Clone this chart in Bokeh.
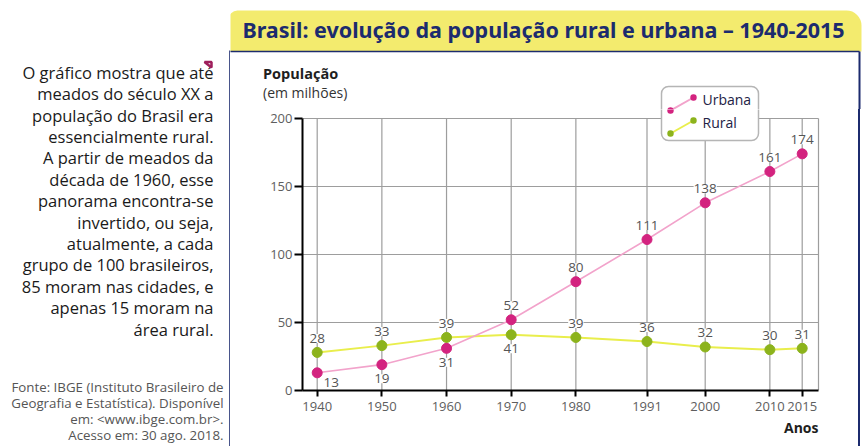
from bokeh.plotting import figure
from bokeh.models import (ColumnDataSource, LabelSet, Label, BoxAnnotation, Title,
                          PolyAnnotation, FixedTicker, Range1d, Div)
from bokeh.layouts import row, column
from bokeh.core.properties import value
from bokeh.embed import file_html
from bokeh.resources import INLINE

# ---- data ----
years = [1940, 1950, 1960, 1970, 1980, 1991, 2000, 2010, 2015]
urbana = [13, 19, 31, 52, 80, 111, 138, 161, 174]
rural = [28, 33, 39, 41, 39, 36, 32, 30, 31]
y_ticks = [0, 50, 100, 150, 200]
series_names = ["Urbana", "Rural"]
title_text = "Brasil: evolução da população rural e urbana – 1940-2015"
y_title = "População"
y_subtitle = "(em milhões)"
x_title = "Anos"
paragraph = [
    "O gráfico mostra que até",
    "meados do século XX a",
    "população do Brasil era",
    "essencialmente rural.",
    "A partir de meados da",
    "década de 1960, esse",
    "panorama encontra-se",
    "invertido, ou seja,",
    "atualmente, a cada",
    "grupo de 100 brasileiros,",
    "85 moram nas cidades, e",
    "apenas 15 moram na",
    "área rural.",
]
source_lines = [
    "Fonte: IBGE (Instituto Brasileiro de",
    "Geografia e Estatística). Disponível",
    "em: <www.ibge.com.br>.",
    "Acesso em: 30 ago. 2018.",
]
# label placement (style): where each value label sits relative to its point
urb_place = ["below-right", "below", "below", "above", "above", "above", "above", "above", "above"]
rur_place = ["above", "above", "above", "below", "above", "above", "above", "above", "above"]

# ---- styling ----
FONT = "Open Sans"
NAVY = "#1c2b6e"
YELLOW = "#f3eb6e"
URB_PT, URB_LN = "#d3237f", "#f2a3cb"
RUR_PT, RUR_LN = "#8cb31c", "#e9ee4c"
GRID = "#9d9d9d"
LAB = "#555555"
PX_YR = 6.467         # horizontal scale (px per year)
PX_UNIT = 1.36        # vertical scale (px per million)


def blank(w, h):
    f = figure(width=w, height=h, x_range=Range1d(0, 1), y_range=Range1d(0, 1),
               output_backend="svg", toolbar_location=None,
               x_axis_location=None, y_axis_location=None, min_border=0)
    f.grid.visible = False
    f.outline_line_color = None
    f.background_fill_color = "white"
    f.border_fill_color = "white"
    return f


def add_label(f, x, y, text, **kw):
    base = dict(x=x, y=y, x_units="canvas", y_units="canvas", text=text,
                text_font=FONT, text_baseline="middle")
    base.update(kw)
    f.add_layout(Label(**base))


def add_box(f, l, r, t, b, **kw):
    base = dict(left=l, right=r, top=t, bottom=b, left_units="canvas", right_units="canvas",
                top_units="canvas", bottom_units="canvas", line_alpha=1.0)
    base.update(kw)
    f.add_layout(BoxAnnotation(**base))


def add_poly(f, xs, ys, **kw):
    f.add_layout(PolyAnnotation(xs=xs, ys=ys, xs_units="canvas", ys_units="canvas",
                                fill_alpha=0, line_alpha=1.0, **kw))


# ---------- left text column (page x 0..230) ----------
left = blank(230, 446)
for i, line in enumerate(paragraph):
    add_label(left, 213, 71.7 + 21.4 * i, line, text_align="right", text_color="#1a1a1a",
              text_font_size="16.5px")
add_poly(left, [204, 211, 211], [61.5, 61.5, 67], line_color="#9e1f5c", line_width=2.5)
for i, line in enumerate(source_lines):
    add_label(left, 223, 386 + 16.2 * i, line, text_align="right", text_color="#555555",
              text_font_size="13.3px")
add_poly(left, [229.5, 229.5], [50, 460], line_color=NAVY, line_width=1.6)

# ---------- top strip (page x 230..865, y 0..109) ----------
TOP_H = 109
top = blank(635, TOP_H)
add_box(top, -2, 631, 10, 51, fill_color=YELLOW, fill_alpha=1, line_alpha=0,
        border_radius=(9, 15, 0, 0))
add_poly(top, [-2, 629], [51, 51], line_color=NAVY, line_width=1.6)
add_poly(top, [629, 629], [51, 130], line_color=NAVY, line_width=2)
add_label(top, 313, 28.5, title_text, text_align="center", text_color=NAVY,
          text_font="Noto Sans", text_font_style="bold", text_font_size="21.5px")
add_label(top, 32.5, 73, y_title, text_align="left", text_color="#1e1e1e",
          text_font_style="bold", text_font_size="14.5px")
add_label(top, 32.5, 91.5, y_subtitle, text_align="left", text_color="#333333",
          text_font_size="14px")

# ---------- main chart (page x 230..858, y 109..446) ----------
MW, MH = 628, 446 - TOP_H
FL, FR, FB = 72, 592, 390 - TOP_H           # frame edges in canvas px (left, right, bottom)
X1940, X2015 = 86.7, 571.7                  # where first/last year sit (canvas px)
X_END_PX = 588                              # right end of the grid (canvas px)
x_start = years[0] - (X1940 - FL) / PX_YR
x_end = years[-1] + (FR - X2015) / PX_YR
x_grid_end = years[-1] + (X_END_PX - X2015) / PX_YR
y_top = FB / PX_UNIT

p = figure(width=MW, height=MH, x_range=Range1d(x_start, x_end), y_range=Range1d(0, y_top),
           output_backend="svg", toolbar_location=None,
           min_border_left=FL, min_border_right=MW - FR, min_border_top=0,
           min_border_bottom=MH - FB)
p.background_fill_color = "white"
p.border_fill_color = "white"
p.outline_line_color = None
p.grid.visible = False

p.xaxis.ticker = FixedTicker(ticks=years)
p.yaxis.ticker = FixedTicker(ticks=y_ticks)
for ax in (p.xaxis[0], p.yaxis[0]):
    ax.axis_line_color = "black"
    ax.axis_line_width = 2
    ax.major_tick_line_color = "black"
    ax.major_tick_line_width = 2
    ax.major_tick_in = 0
    ax.minor_tick_line_color = None
    ax.major_label_text_color = "#5e5e5e"
    ax.major_label_text_font = FONT
    ax.major_label_text_font_size = "13px"
p.yaxis[0].bounds = (y_ticks[0], y_ticks[-1])
p.yaxis.major_tick_out = 8
p.yaxis.major_label_standoff = 2
p.xaxis[0].bounds = (x_start, x_grid_end)
p.xaxis.major_tick_out = 6
p.xaxis.major_label_standoff = 5
p.add_layout(Title(text=x_title, align="right", offset=4, standoff=5, text_font=FONT,
                   text_font_style="bold", text_font_size="14px", text_color="#1e1e1e"),
             "below")

# grid drawn from the tick values
n = len(years)
p.segment(x0=years, y0=[y_ticks[0]] * n, x1=years, y1=[y_ticks[-1]] * n,
          line_color=GRID, line_width=1.2)
m = len(y_ticks) - 1
p.segment(x0=[x_start] * m, y0=y_ticks[1:], x1=[x_grid_end] * m, y1=y_ticks[1:],
          line_color=GRID, line_width=1.2)
p.segment(x0=[x_grid_end], y0=[y_ticks[0]], x1=[x_grid_end], y1=[y_ticks[-1]],
          line_color=GRID, line_width=1.2)

src = ColumnDataSource(dict(year=years, urb=urbana, rur=rural,
                            urb_t=[str(v) for v in urbana], rur_t=[str(v) for v in rural]))
p.line("year", "rur", source=src, line_color=RUR_LN, line_width=2)
p.line("year", "urb", source=src, line_color=URB_LN, line_width=1.6)
p.scatter("year", "rur", source=src, size=10, fill_color=RUR_PT, line_color=RUR_PT)
p.scatter("year", "urb", source=src, size=10, fill_color=URB_PT, line_color=URB_PT)


def offs(place):
    xo, yo = [], []
    for pl in place:
        if pl == "above":
            xo.append(0); yo.append(14)
        elif pl == "below":
            xo.append(0); yo.append(-14)
        else:
            xo.append(14); yo.append(-10)
    return xo, yo


uxo, uyo = offs(urb_place)
rxo, ryo = offs(rur_place)
src.data.update(uxo=uxo, uyo=uyo, rxo=rxo, ryo=ryo)
for ycol, tcol, xo, yo in (("urb", "urb_t", "uxo", "uyo"), ("rur", "rur_t", "rxo", "ryo")):
    p.add_layout(LabelSet(x="year", y=ycol, text=tcol, source=src, x_offset=xo, y_offset=yo,
                          text_align="center", text_baseline="middle", text_color=LAB,
                          text_font=value(FONT), text_font_size="13.5px",
                          background_fill_color="white", background_fill_alpha=1.0))


# legend: box and symbols drawn in both the top strip and the chart (each shows its
# own part); each entry's text lives in the strip that holds it entirely
def draw_legend(fig, dy, with_text):
    add_box(fig, 431, 528, 86 - dy, 140 - dy, fill_color="white", fill_alpha=1,
            line_color="#b5b5b5", line_width=1.5, border_radius=7, level="overlay")
    for k, (name, ln, pt, y0) in enumerate(((series_names[0], URB_LN, URB_PT, 110),
                                            (series_names[1], RUR_LN, RUR_PT, 133))):
        yy0 = y0 - dy
        fig.add_layout(PolyAnnotation(xs=[440, 463], ys=[yy0, yy0 - 13], xs_units="canvas",
                                      ys_units="canvas", fill_alpha=0, line_alpha=1.0,
                                      line_color=ln, line_width=2, level="overlay"))
        for (xx, yy) in ((440, yy0), (463, yy0 - 13)):
            add_box(fig, xx - 3.2, xx + 3.2, yy - 3.2, yy + 3.2, fill_color=pt, fill_alpha=1,
                    line_alpha=0, border_radius=3, level="overlay")
        if k in with_text:
            add_label(fig, 472, yy0 - 11.5, name, text_align="left", text_color="#222244",
                      text_font_size="14px", level="overlay")


draw_legend(top, 0, with_text=(0,))
draw_legend(p, TOP_H, with_text=(1,))

edge = Div(text="", width=2, height=MH, margin=(0, 0, 0, 0),
           styles={"background-color": NAVY})

layout = row(left, column(top, row(p, edge, spacing=0), spacing=0), spacing=0)
open("out.html", "w").write(file_html(layout, INLINE))
